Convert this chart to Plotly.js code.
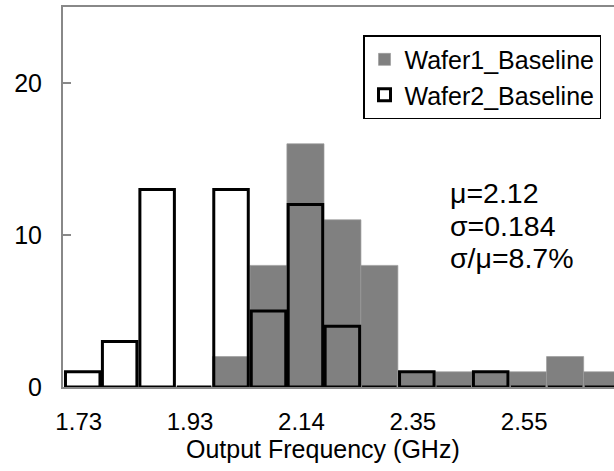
<!DOCTYPE html>
<html>
<head>
<meta charset="utf-8">
<script src="https://cdn.plot.ly/plotly-3.0.1.min.js"></script>
<style>html,body{margin:0;padding:0;background:#fff;}#chart{width:614px;height:471px;}</style>
</head>
<body>
<div id="chart"></div>
<script>
// Bin centres (GHz) of the histogram
const binCenters = [1.730, 1.798, 1.867, 1.935, 2.003, 2.072, 2.140, 2.208, 2.276, 2.345, 2.413, 2.481, 2.550, 2.618, 2.686];
const binWidth = 0.0683;
// Counts per bin
const wafer1Counts = [0, 0, 0, 0, 2, 8, 16, 11, 8, 1, 1, 1, 1, 2, 1];
const wafer2Counts = [1, 3, 13, 0, 13, 5, 12, 4, 0, 1, 0, 1, 0, 0, 0];
// Axis ticks
const xTickValues = [1.730, 1.935, 2.140, 2.345, 2.550];
const xTickLabels = ['1.73', '1.93', '2.14', '2.35', '2.55'];
const yTickValues = [0, 10, 20];
const statsLines = ['μ=2.12', 'σ=0.184', 'σ/μ=8.7%'];
const seriesNames = ['Wafer1_Baseline', 'Wafer2_Baseline'];

const FONT = '"Liberation Sans", Arial, sans-serif';

const traces = [
  {
    type: 'bar', name: seriesNames[0], x: binCenters, y: wafer1Counts,
    width: binWidth,
    marker: {color: '#808080', line: {color: '#9c9c9c', width: 0.7}},
    hoverinfo: 'x+y'
  },
  {
    type: 'bar', name: seriesNames[1], x: binCenters, y: wafer2Counts,
    width: binWidth * 0.93,
    marker: {color: 'rgba(255,255,255,0)', line: {color: '#000000', width: 3}},
    hoverinfo: 'x+y'
  }
];

const statY = [0.5105, 0.4224, 0.3395];
const annotations = statsLines.map((t, i) => ({
  text: t, xref: 'paper', yref: 'paper', x: 0.6987, y: statY[i],
  xanchor: 'left', yanchor: 'middle', showarrow: false,
  font: {family: FONT, size: 28.5, color: '#000'}
}));
annotations.push({
  text: 'Output Frequency (GHz)', xref: 'paper', yref: 'paper', x: 0.471, y: -0.163,
  xanchor: 'center', yanchor: 'middle', showarrow: false,
  font: {family: FONT, size: 25, color: '#000'}
});

const layout = {
  width: 614, height: 471,
  margin: {l: 63, r: 0, t: 7, b: 84},
  paper_bgcolor: '#ffffff', plot_bgcolor: '#ffffff',
  barmode: 'overlay', bargap: 0,
  font: {family: FONT, size: 25, color: '#000'},
  showlegend: true,
  legend: {
    x: 0.5445, y: 0.926, xanchor: 'left', yanchor: 'top',
    bgcolor: '#ffffff', bordercolor: '#000000', borderwidth: 1.5,
    font: {family: FONT, size: 25, color: '#000'}
  },
  xaxis: {
    range: [1.6937, 2.708], tickmode: 'array', tickvals: xTickValues, ticktext: xTickLabels,
    ticks: '', showgrid: false, zeroline: false,
    showline: true, mirror: true, linecolor: '#888888', linewidth: 2,
    tickfont: {family: FONT, size: 24, color: '#000'},
    ticklabelstandoff: 12, ticklabelshift: -4
  },
  yaxis: {
    range: [0, 25], tickmode: 'array', tickvals: yTickValues,
    ticks: 'inside', ticklen: 8, tickcolor: '#888888', tickwidth: 1.5,
    showgrid: false, zeroline: false,
    showline: true, linecolor: '#888888', linewidth: 2,
    tickfont: {family: FONT, size: 25, color: '#000'},
    ticklabelstandoff: 14
  },
  annotations: annotations
};

Plotly.newPlot('chart', traces, layout, {staticPlot: true, displayModeBar: false});
</script>
</body>
</html>
